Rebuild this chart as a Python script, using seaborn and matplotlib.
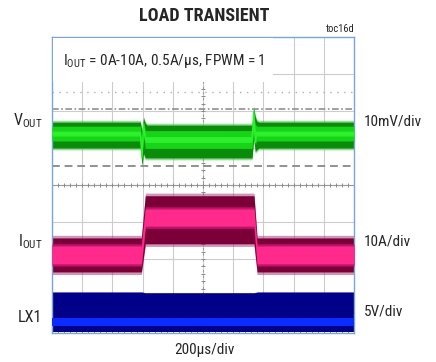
import numpy as np
import pandas as pd
import matplotlib
matplotlib.use("Agg")
import matplotlib.pyplot as plt
from matplotlib.patches import Rectangle
import seaborn as sns

# scope settings (divisions)
T_DIV = 200.0      # us/div
V_DIV = 10.0       # mV/div
I_DIV = 10.0       # A/div
LX_DIV = 5.0       # V/div
VOUT_POS = 5.35    # trace offsets in divisions from bottom
IOUT_POS = 2.11
LX_POS = 0.30

# VOUT (mV, relative to its offset) - envelope
t_v = [0, 585, 596, 606, 618, 630, 1325, 1336, 1346, 1356, 1370, 2000]
v_top = [3.5, 3.5, 1.0, 4.6, 3.2, 2.7, 2.7, 7.3, 5.0, 3.8, 3.5, 3.5]
v_bot = [-3.5, -3.5, -8.1, -5.0, -6.2, -6.2, -6.2, -1.0, -4.5, -4.0, -3.5, -3.5]
v_core_top = [2.4, 2.4, -2.0, 3.5, 1.2, 1.2, 1.2, 6.0, 3.0, 2.4, 2.4, 2.4]
v_core_bot = [-1.6, -1.6, -7.0, 0.0, -3.6, -3.6, -3.6, 1.0, -2.5, -1.6, -1.6, -1.6]
v_mid = [0.4, 0.4, -6.0, 3.0, -1.2, -1.2, -1.2, 6.5, -2.0, 0.4, 0.4, 0.4]

# IOUT (A)
t_i = [0, 592, 618, 1338, 1358, 2000]
i_top = [4.6, 4.6, 16.0, 16.0, 4.6, 4.6]
i_bot = [-4.6, -4.6, 3.0, 3.0, -4.6, -4.6]
i_core_top = [2.4, 2.4, 12.4, 12.4, 2.4, 2.4]
i_core_bot = [-2.4, -2.4, 7.8, 7.8, -2.4, -2.4]

# LX1 (V)
t_lx = [0, 595, 615, 1340, 1360, 2000]
lx_top = [4.05, 4.05, 3.95, 3.95, 4.05, 4.05]
lx_bot = [-1.3, -1.3, -1.3, -1.3, -1.3, -1.3]
lx_core_top = [0.55, 0.55, 0.55, 0.55, 0.55, 0.55]
lx_core_bot = [-0.5, -0.5, -0.5, -0.5, -0.5, -0.5]

sns.set_style("white")
FONT = 'Roboto Condensed'
plt.rcParams['font.family'] = [FONT, 'Liberation Sans', 'DejaVu Sans']
plt.rcParams['mathtext.fontset'] = 'custom'
plt.rcParams['mathtext.rm'] = FONT
plt.rcParams['mathtext.it'] = FONT

W, H = 436, 362
fig = plt.figure(figsize=(W / 100, H / 100), dpi=100)
L, R, T, B = 52, 354, 37, 333
ax = fig.add_axes([L / W, 1 - B / H, (R - L) / W, (B - T) / H])


def to_div(vals, scale, pos):
    return np.array(vals) / scale + pos


def band(t, lo, hi, color, alpha=1.0, z=2):
    ax.fill_between(np.array(t) / T_DIV, lo, hi, color=color, alpha=alpha,
                    lw=0, zorder=z)


# graticule
for k in range(1, 10):
    ax.axvline(k, color='#cccccc', lw=0.8, zorder=0)
for k in range(1, 8):
    ax.axhline(k, color='#cccccc', lw=0.8, zorder=0)
ax.axvline(5, color='#9a9a9a', lw=0.8, ls=(0, (2, 3)), zorder=0)
ax.axhline(4, color='#9a9a9a', lw=0.8, zorder=0)
ticks = np.arange(0, 10.01, 0.2)
ax.plot(ticks, np.full_like(ticks, 4), '|', color='#8a8a8a', ms=3, mew=0.7, zorder=0)
ax.plot(ticks, np.full_like(ticks, 0.02), '|', color='#8a8a8a', ms=3, mew=0.7, zorder=0)
vt = np.arange(0, 8.01, 0.2)
ax.plot(np.full_like(vt, 5), vt, '_', color='#8a8a8a', ms=3, mew=0.7, zorder=0)

# cursors
ax.axhline(6.51, color='#b0b0b0', lw=1.0, ls=(0, (1, 4)), zorder=1)
ax.axhline(6.05, color='#909090', lw=1.2, ls=(0, (4, 1.5, 1, 1.5)), zorder=1)
ax.axhline(4.51, color='#909090', lw=1.4, ls=(0, (4, 2.5)), zorder=1)

# VOUT
vt_top = to_div(v_top, V_DIV, VOUT_POS)
vt_bot = to_div(v_bot, V_DIV, VOUT_POS)
band(t_v, vt_bot - 0.05, vt_top + 0.05, '#50c850', alpha=0.6)
band(t_v, vt_bot, vt_top, '#0a8c0a')
vc_top = to_div(v_core_top, V_DIV, VOUT_POS)
vc_bot = to_div(v_core_bot, V_DIV, VOUT_POS)
band(t_v, vc_bot, vc_top, '#18d418', z=3)
band(t_v, (2 * vc_bot + vc_top) / 3, (vc_bot + 2 * vc_top) / 3, '#2af02a', z=3)
df_v = pd.DataFrame({'t': np.array(t_v) / T_DIV, 'y': to_div(v_mid, V_DIV, VOUT_POS)})
sns.lineplot(data=df_v, x='t', y='y', ax=ax, color='#30f030', lw=1.0, zorder=4)

# IOUT
it_top = to_div(i_top, I_DIV, IOUT_POS)
it_bot = to_div(i_bot, I_DIV, IOUT_POS)
band(t_i, it_bot - 0.07, it_top + 0.07, '#a03070', alpha=0.5)
band(t_i, it_bot, it_top, '#7c0038')
ic_top = to_div(i_core_top, I_DIV, IOUT_POS)
ic_bot = to_div(i_core_bot, I_DIV, IOUT_POS)
band(t_i, ic_bot - 0.06, ic_top + 0.06, '#c0146c', z=3)
band(t_i, ic_bot, ic_top, '#ff2a8c', z=3)

# LX1
band(t_lx, to_div(lx_bot, LX_DIV, LX_POS), to_div(lx_top, LX_DIV, LX_POS), '#000088')
band(t_lx, to_div(lx_core_bot, LX_DIV, LX_POS), to_div(lx_core_top, LX_DIV, LX_POS),
     '#0a2cff', z=3)

# annotation box
ax.add_patch(Rectangle((0.03, 6.78), 7.3, 1.2, facecolor='white', edgecolor='none', zorder=5))
ax.text(0.36, 7.34, r'$\mathregular{I_{OUT}}$ = 0A-10A, 0.5A/µs, FPWM = 1',
        fontsize=11, va='center', ha='left', zorder=6)

ax.set_xlim(0, 10)
ax.set_ylim(0, 8)
ax.set_xticks([])
ax.set_yticks([])
ax.set_xlabel('')
ax.set_ylabel('')
for s in ax.spines.values():
    s.set_color('#7aa6d8')
    s.set_linewidth(1.0)


def ftext(x, y, s, **kw):
    fig.text(x / W, 1 - y / H, s, **kw)


ftext(204, 16, 'LOAD TRANSIENT', fontsize=13, fontweight='bold', ha='center', va='center')
ftext(355, 29, 'toc16d', fontsize=7.5, ha='right', va='center')
ftext(43, 121, r'$\mathregular{V_{OUT}}$', fontsize=11.5, ha='right', va='center')
ftext(43, 242, r'$\mathregular{I_{OUT}}$', fontsize=11.5, ha='right', va='center')
ftext(42, 318, 'LX1', fontsize=11.5, ha='right', va='center')
ftext(364, 121, '10mV/div', fontsize=11, ha='left', va='center')
ftext(364, 241, '10A/div', fontsize=11, ha='left', va='center')
ftext(364, 311, '5V/div', fontsize=11, ha='left', va='center')
ftext(204, 350, '200µs/div', fontsize=11, ha='center', va='center')

fig.savefig('out.png', dpi=100)
